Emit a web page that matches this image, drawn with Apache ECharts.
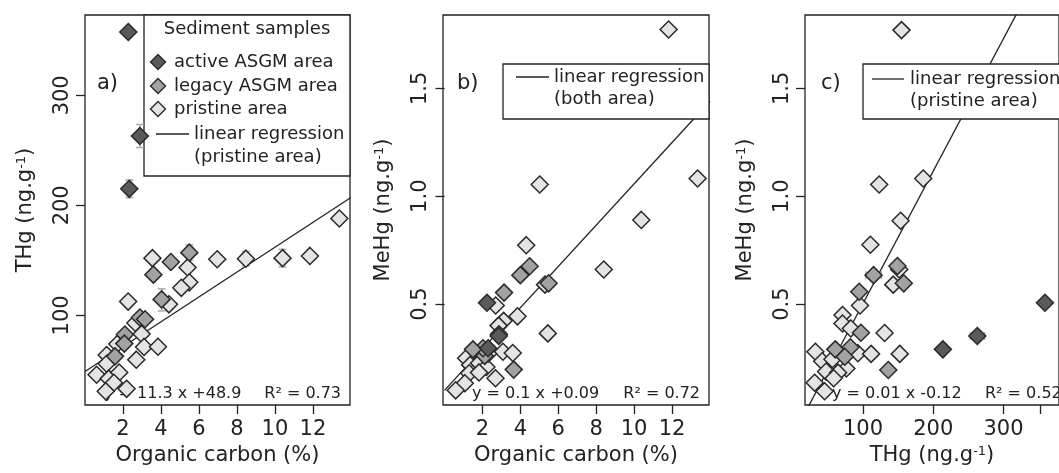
<!DOCTYPE html>
<html>
<head>
<meta charset="utf-8">
<script src="https://cdn.jsdelivr.net/npm/echarts@6/dist/echarts.min.js"></script>
<style>html,body{margin:0;padding:0;background:#fff}#c{width:1059px;height:473px}</style>
</head>
<body>
<div id="c"></div>
<script>
// ---- Panel a: Organic carbon (%) vs THg ----
const aActive = [[2.28,357.6],[2.89,263],[2.33,215]];
const aLegacy = [[5.49,157],[4.52,148.5],[3.6,137],[4.03,114.5],[2.89,98],[3.16,96.5],[2.1,82.5],[2.07,74.3],[1.58,62.7]];
const aPristine = [[3.55,152],[5.4,143.5],[5.49,130],[5.07,125],[4.42,110],[2.27,112.5],[6.96,151],[8.47,151.5],
  [10.4,152],[11.84,154],[13.39,188],[2.65,93],[2.98,83],[3.11,71.3],[3.84,71.5],[1.7,74],[2.7,59.7],[1.14,64],
  [1.14,56],[0.61,46],[1.25,42.5],[1.8,48],[1.52,38.7],[1.09,31],[2.19,33.2]];
const aRegression = [[0,48.9],[14,207.1]];
const aErrors = [[2.89,252.5,273.5],[2.33,207,223],[5.49,150,164],[4.04,104,124],[8.47,145,158],[10.4,144,160]];

// ---- Panel b: Organic carbon (%) vs MeHg ----
const bActive = [[2.24,0.506],[2.86,0.352],[2.3,0.295]];
const bLegacy = [[5.49,0.596],[4.49,0.675],[3.65,0.196],[4.0,0.634],[2.87,0.36],[3.14,0.553],[2.12,0.26],[2.03,0.295],[1.5,0.29]];
const bPristine = [[11.82,1.773],[5.02,1.054],[13.35,1.082],[10.38,0.89],[4.31,0.773],[8.4,0.66],[5.3,0.59],[2.7,0.493],
  [3.85,0.443],[3.12,0.422],[2.85,0.40],[5.45,0.364],[3.08,0.279],[3.6,0.273],[2.69,0.156],[1.14,0.249],[1.35,0.218],
  [1.82,0.226],[2.21,0.208],[1.3,0.179],[1.82,0.183],[1.07,0.133],[0.59,0.10],[2.3,0.27]];
const bRegression = [[0,0.1],[14,1.44]];

// ---- Panel c: THg vs MeHg ----
const cActive = [[213.7,0.29],[262.7,0.352],[359,0.506]];
const cLegacy = [[149,0.676],[115,0.634],[158,0.596],[94.6,0.557],[136,0.194],[97,0.367],[60.5,0.29],[82,0.30],[74,0.256]];
const cPristine = [[154.8,1.77],[123,1.054],[185.7,1.082],[153.5,0.886],[110.5,0.775],[151.5,0.66],[143,0.59],[95.7,0.493],
  [70.8,0.449],[70.8,0.41],[82.7,0.387],[130.7,0.366],[32.2,0.279],[92.7,0.272],[111.5,0.269],[152.3,0.269],[41.9,0.235],
  [56.5,0.244],[76.3,0.201],[47.4,0.187],[64.5,0.182],[58.2,0.156],[31.2,0.135],[45.3,0.096]];
const cRegression = [[17,-0.007],[330,1.915]];
const cErrors = [[0.352,253,273],[0.29,209,218],[0.634,104,126],[0.67,142,158],[0.596,151,165],[0.367,93,101]];

// ---- tick labels ----
const ocTicks = [2,4,6,8,10,12];
const thgTicksY = [100,200,300];
const mehgTicks = [0.5,1.0,1.5];
const thgTicksX = [100,200,300];
const thgTickMarksX = [100,200,300,352];

const FONT = 'DejaVu Sans';
const INK = '#222';
const COL = {active:'#5a5a5a', legacy:'#a2a2a2', pristine:'#e4e4e4'};

const grids = [
  {left:85, top:15, width:265, height:390},
  {left:443, top:15, width:266, height:390},
  {left:805, top:15, width:266, height:390}
].map(g => Object.assign(g, {show:true, borderColor:INK, borderWidth:1.3, backgroundColor:'transparent', containLabel:false}));

function xAxis(gi, min, max, tickVals, labelVals, nameRich){
  return {type:'value', gridIndex:gi, min, max, position:'bottom',
    axisLine:{show:false}, splitLine:{show:false},
    axisTick:{show:true, inside:false, length:9, lineStyle:{color:INK, width:1.3}, customValues:tickVals},
    axisLabel:{show:true, customValues:labelVals, fontFamily:FONT, fontSize:21, color:INK, margin:14},
    name:nameRich, nameLocation:'middle', nameGap:38,
    nameTextStyle:{fontFamily:FONT, fontSize:21, color:INK, rich:{a:{fontFamily:FONT,fontSize:21,color:INK}, s:{fontFamily:FONT,fontSize:13,color:INK,verticalAlign:'top', padding:[0,0,6,0]}}}
  };
}
function yAxis(gi, min, max, vals, nameRich, fmt){
  return {type:'value', gridIndex:gi, min, max,
    axisLine:{show:false}, splitLine:{show:false},
    axisTick:{show:true, inside:false, length:9, lineStyle:{color:INK, width:1.3}, customValues:vals},
    axisLabel:{show:true, customValues:vals, rotate:90, fontFamily:FONT, fontSize:21, color:INK, margin:12, formatter:fmt},
    name:nameRich, nameLocation:'middle', nameGap:49, nameRotate:90,
    nameTextStyle:{fontFamily:FONT, fontSize:21, color:INK, rich:{a:{fontFamily:FONT,fontSize:21,color:INK}, s:{fontFamily:FONT,fontSize:13,color:INK,verticalAlign:'top', padding:[0,0,6,0]}}}
  };
}
const oneDec = v => v.toFixed(1);
const intFmt = v => String(Math.round(v));

function scatter(gi, data, color){
  return {type:'scatter', xAxisIndex:gi, yAxisIndex:gi, data, symbol:'diamond', symbolSize:[17,17], z:5,
    itemStyle:{color, borderColor:'#2a2a2a', borderWidth:1.5, opacity:1}, emphasis:{disabled:true}, silent:true};
}
function regLine(gi, data){
  return {type:'line', xAxisIndex:gi, yAxisIndex:gi, data, showSymbol:false, symbol:'none', clip:true, z:1,
    lineStyle:{color:INK, width:1.3}, silent:true};
}
function vErr(gi, data){
  return {type:'custom', xAxisIndex:gi, yAxisIndex:gi, data, z:4, silent:true, clip:true,
    encode:{x:0, y:[1,2]},
    renderItem:(params, api) => {
      const x = api.value(0), p1 = api.coord([x, api.value(1)]), p2 = api.coord([x, api.value(2)]);
      const st = {stroke:'#aaaaaa', lineWidth:1.5};
      return {type:'group', children:[
        {type:'line', shape:{x1:p1[0], y1:p1[1], x2:p2[0], y2:p2[1]}, style:st},
        {type:'line', shape:{x1:p1[0]-4, y1:p1[1], x2:p1[0]+4, y2:p1[1]}, style:st},
        {type:'line', shape:{x1:p2[0]-4, y1:p2[1], x2:p2[0]+4, y2:p2[1]}, style:st}
      ]};
    }};
}
function hErr(gi, data){
  return {type:'custom', xAxisIndex:gi, yAxisIndex:gi, data, z:4, silent:true, clip:true,
    encode:{y:0, x:[1,2]},
    renderItem:(params, api) => {
      const y = api.value(0), p1 = api.coord([api.value(1), y]), p2 = api.coord([api.value(2), y]);
      const st = {stroke:'#aaaaaa', lineWidth:1.5};
      return {type:'group', children:[
        {type:'line', shape:{x1:p1[0], y1:p1[1], x2:p2[0], y2:p2[1]}, style:st},
        {type:'line', shape:{x1:p1[0], y1:p1[1]-4, x2:p1[0], y2:p1[1]+4}, style:st},
        {type:'line', shape:{x1:p2[0], y1:p2[1]-4, x2:p2[0], y2:p2[1]+4}, style:st}
      ]};
    }};
}

function txt(x, y, text, size, align){
  return {type:'text', x, y, z:3, silent:true,
    style:{text, fontFamily:FONT, fontSize:size, fill:INK, align:align||'left', verticalAlign:'middle'}};
}
function box(x, y, w, h){
  return {type:'rect', z:3, silent:true, shape:{x, y, width:w, height:h}, style:{fill:'#fff', stroke:INK, lineWidth:1.3}};
}
function seg(x1, y1, x2){
  return {type:'line', z:3, silent:true, shape:{x1, y1, x2, y2:y1}, style:{stroke:INK, lineWidth:1.3}};
}
function dia(cx, cy, color){
  const r = 7.5;
  return {type:'polygon', z:3, silent:true, shape:{points:[[cx,cy-r],[cx+r,cy],[cx,cy+r],[cx-r,cy]]},
    style:{fill:color, stroke:'#2a2a2a', lineWidth:1.4}};
}

const graphics = [
  // panel a legend
  box(144, 15, 206, 161),
  txt(247, 29, 'Sediment samples', 18, 'center'),
  dia(158, 62, COL.active), txt(174, 62, 'active ASGM area', 18),
  dia(158, 86, COL.legacy), txt(174, 86, 'legacy ASGM area', 18),
  dia(158, 109, COL.pristine), txt(174, 109, 'pristine area', 18),
  seg(156, 134, 189), txt(194, 134, 'linear regression', 18), txt(194, 157, '(pristine area)', 18),
  txt(97, 84, 'a)', 21),
  txt(104, 394, 'y = 11.3 x +48.9', 16), txt(341, 394, 'R² = 0.73', 16, 'right'),
  // panel b legend
  box(503, 64, 206, 55),
  seg(516, 77, 549), txt(554, 77, 'linear regression', 18), txt(554, 99, '(both area)', 18),
  txt(457, 84, 'b)', 21),
  txt(472, 394, 'y = 0.1 x +0.09', 16), txt(700, 394, 'R² = 0.72', 16, 'right'),
  // panel c legend
  box(863, 64, 220, 55),
  seg(872, 79, 904), txt(910, 79, 'linear regression', 18), txt(910, 101, '(pristine area)', 18),
  txt(821, 84, 'c)', 21),
  txt(832, 394, 'y = 0.01 x -0.12', 16), txt(985, 394, 'R² = 0.52', 16)
];

const chart = echarts.init(document.getElementById('c'), null, {renderer:'canvas'});
chart.setOption({
  animation:false,
  backgroundColor:'#fff',
  grid:grids,
  xAxis:[
    xAxis(0, 0, 13.95, ocTicks, ocTicks, 'Organic carbon (%)'),
    xAxis(1, -0.08, 13.95, ocTicks, ocTicks, 'Organic carbon (%)'),
    xAxis(2, 17.4, 379, thgTickMarksX, thgTicksX, '{a|THg (ng.g}{s|-1}{a|)}')
  ],
  yAxis:[
    yAxis(0, 18.5, 373, thgTicksY, '{a|THg (ng.g}{s|-1}{a|)}', intFmt),
    yAxis(1, 0.032, 1.84, mehgTicks, '{a|MeHg (ng.g}{s|-1}{a|)}', oneDec),
    yAxis(2, 0.032, 1.84, mehgTicks, '{a|MeHg (ng.g}{s|-1}{a|)}', oneDec)
  ],
  graphic:graphics,
  series:[
    regLine(0, aRegression), vErr(0, aErrors),
    scatter(0, aPristine, COL.pristine), scatter(0, aLegacy, COL.legacy), scatter(0, aActive, COL.active),
    regLine(1, bRegression),
    scatter(1, bPristine, COL.pristine), scatter(1, bLegacy, COL.legacy), scatter(1, bActive, COL.active),
    regLine(2, cRegression), hErr(2, cErrors),
    scatter(2, cPristine, COL.pristine), scatter(2, cLegacy, COL.legacy), scatter(2, cActive, COL.active)
  ]
});
</script>
</body>
</html>
